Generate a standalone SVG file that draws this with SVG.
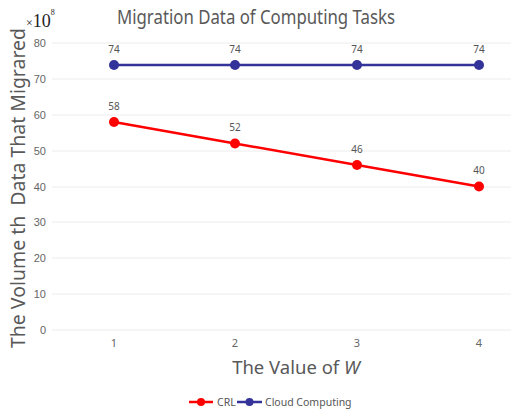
<svg xmlns="http://www.w3.org/2000/svg" width="512" height="412" viewBox="0 0 512 412">
<style>
.grid{stroke:#ececec;stroke-width:1}
.tick{font-family:"Liberation Sans",Arial,sans-serif;font-size:11px;fill:#666}
.xt{font-family:"Noto Sans","Open Sans",sans-serif;font-size:11px;fill:#666;text-anchor:middle}
.lbl{font-family:"Noto Sans","Open Sans",sans-serif;font-size:10px;fill:#555;text-anchor:middle}
.ttl{font-family:"Noto Sans","Open Sans",sans-serif;fill:#595959}
.crl{stroke:#ff0000;stroke-width:2.5;fill:none}
.cc{stroke:#333399;stroke-width:2.5;fill:none}
.crld{fill:#ff0000}
.ccd{fill:#333399}
.leg{font-family:"Noto Sans","Open Sans",sans-serif;font-size:10.5px;fill:#555}
</style>
<rect width="512" height="412" fill="#fff"/>
<g id="title"><text class="ttl" x="256" y="24" font-size="19" text-anchor="middle" textLength="278" lengthAdjust="spacingAndGlyphs">Migration Data of Computing Tasks</text></g>
<g id="unit"><text x="26" y="27" font-family="'Liberation Serif',serif" fill="#222"><tspan font-size="12">×</tspan><tspan font-size="18">10</tspan><tspan font-size="8" dy="-12">8</tspan></text></g>
<g id="grid">
<line class="grid" x1="52" y1="43" x2="511" y2="43"/>
<line class="grid" x1="52" y1="79" x2="511" y2="79"/>
<line class="grid" x1="52" y1="115" x2="511" y2="115"/>
<line class="grid" x1="52" y1="151" x2="511" y2="151"/>
<line class="grid" x1="52" y1="187" x2="511" y2="187"/>
<line class="grid" x1="52" y1="222" x2="511" y2="222"/>
<line class="grid" x1="52" y1="258" x2="511" y2="258"/>
<line class="grid" x1="52" y1="294" x2="511" y2="294"/>
<line class="grid" x1="52" y1="330" x2="511" y2="330"/>
</g>
<g id="yticks" class="tick" text-anchor="end">
<text x="46" y="47">80</text>
<text x="46" y="83">70</text>
<text x="46" y="119">60</text>
<text x="46" y="155">50</text>
<text x="46" y="191">40</text>
<text x="46" y="226">30</text>
<text x="46" y="262">20</text>
<text x="46" y="298">10</text>
<text x="46" y="334">0</text>
</g>
<g id="xticks" class="xt">
<text x="114" y="347">1</text>
<text x="235" y="347">2</text>
<text x="357" y="347">3</text>
<text x="479" y="347">4</text>
</g>
<g id="ytitle"><text class="ttl" transform="translate(25,188) rotate(-90)" font-size="20" text-anchor="middle" textLength="320" lengthAdjust="spacingAndGlyphs" style="white-space:pre" xml:space="preserve">The Volume th  Data That Migrared</text></g>
<g id="xtitle"><text class="ttl" x="296" y="374" font-size="18.5" text-anchor="middle">The Value of <tspan font-style="italic">W</tspan></text></g>
<g id="connectors">
<polyline class="cc" points="114,65 235,65 357,65 479,65"/>
<polyline class="crl" points="114,122 235,143.5 357,165 479,186.5"/>
</g>
<g id="cloud">
<circle class="ccd" cx="114" cy="65" r="5"/>
<circle class="ccd" cx="235" cy="65" r="5"/>
<circle class="ccd" cx="357" cy="65" r="5"/>
<circle class="ccd" cx="479" cy="65" r="5"/>
<text class="lbl" x="114" y="53">74</text>
<text class="lbl" x="235" y="53">74</text>
<text class="lbl" x="357" y="53">74</text>
<text class="lbl" x="479" y="53">74</text>
</g>
<g id="crl">
<circle class="crld" cx="114" cy="122" r="5"/>
<circle class="crld" cx="235" cy="143.5" r="5"/>
<circle class="crld" cx="357" cy="165" r="5"/>
<circle class="crld" cx="479" cy="186.5" r="5"/>
<text class="lbl" x="114" y="110">58</text>
<text class="lbl" x="235" y="131">52</text>
<text class="lbl" x="357" y="153">46</text>
<text class="lbl" x="479" y="174">40</text>
</g>
<g id="legend">
<line x1="189" y1="402" x2="213" y2="402" stroke="#ff0000" stroke-width="2.5"/>
<circle class="crld" cx="201" cy="402" r="4"/>
<text class="leg" x="217" y="406">CRL</text>
<line x1="237" y1="402" x2="262" y2="402" stroke="#333399" stroke-width="2.5"/>
<circle class="ccd" cx="249.5" cy="402" r="4"/>
<text class="leg" x="265" y="406">Cloud Computing</text>
</g>
</svg>
